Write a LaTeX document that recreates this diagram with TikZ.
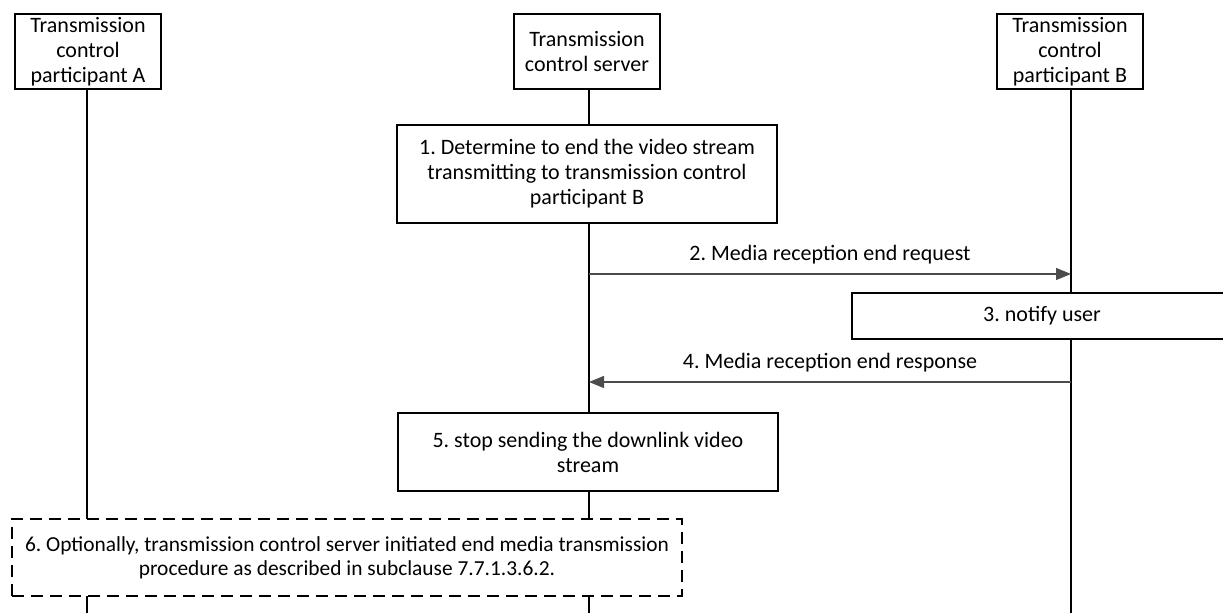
\documentclass[tikz,border=0pt]{standalone}
\usepackage{fontspec}
\setmainfont{Carlito}
\usetikzlibrary{arrows.meta}

\tikzset{
  actor/.style={draw, line width=0.75pt, fill=white, align=center, inner sep=1pt,
    minimum width=73pt, minimum height=37.5pt, font=\fontsize{11}{12.5}\selectfont},
  action/.style={draw, line width=0.75pt, fill=white, align=center, inner sep=2pt,
    font=\fontsize{11}{12.5}\selectfont},
  lifeline/.style={line width=0.75pt},
  msg/.style={line width=0.6pt, draw=black!70, -{Triangle[length=7.5pt,width=6pt]}},
  msglabel/.style={font=\fontsize{11}{12.5}\selectfont, above=1.5pt}
}

\begin{document}
\frenchspacing
\begin{tikzpicture}[x=0.5pt, y=-0.5pt]
\useasboundingbox (0,0) rectangle (1223,613);
%%%%%%%%%%%%%%%%%%%
% The participants

\node [actor] (partA) at (88,51.5) {Transmission\\control\\participant A};
\node [actor] (server) at (587,51.5) {Transmission\\control server};
\node [actor] (partB) at (1070,51.5) {Transmission\\control\\participant B};

\coordinate (endA) at (87,613);
\coordinate (endS) at (589,613);
\coordinate (endB) at (1071,613);

%%%%%%%%%%%%%%%%%%%
% Lifelines (drawn first, boxes lie over them)

\draw [lifeline] (87,89) -- (endA);
\draw [lifeline] (589,89) -- (endS);
\draw [lifeline] (1071,89) -- (endB);

%%%%%%%%%%%%%%%%%%%
% Steps

\node [action, minimum width=190pt, minimum height=49pt] (stepone) at (587,174)
  {1. Determine to end the video stream\\transmitting to transmission control\\participant B};

\node [action, minimum width=190pt, minimum height=23pt] (stepthree) at (1042,316) {3. notify user};

\node [action, minimum width=190pt, minimum height=39pt] (stepfive) at (588,452)
  {5. stop sending the downlink video\\stream};

\node [action, dashed, dash pattern=on 6pt off 3.5pt, minimum width=335pt, minimum height=38.5pt,
  font=\fontsize{10.7}{12}\selectfont] (stepsix) at (347,557.5)
  {6. Optionally, transmission control server initiated end media transmission\\procedure as described in subclause 7.7.1.3.6.2.};

%%%%%%%%%%%%%%%%%%%
% Messages

\coordinate (reqS) at (589,274);
\coordinate (reqB) at (1071,274);
\coordinate (rspB) at (1071,382);
\coordinate (rspS) at (589,382);

\draw [msg] (reqS) -- node [msglabel] {2. Media reception end request} (reqB);
\draw [msg] (rspB) -- node [msglabel] {4. Media reception end response} (rspS);

\end{tikzpicture}
\end{document}
